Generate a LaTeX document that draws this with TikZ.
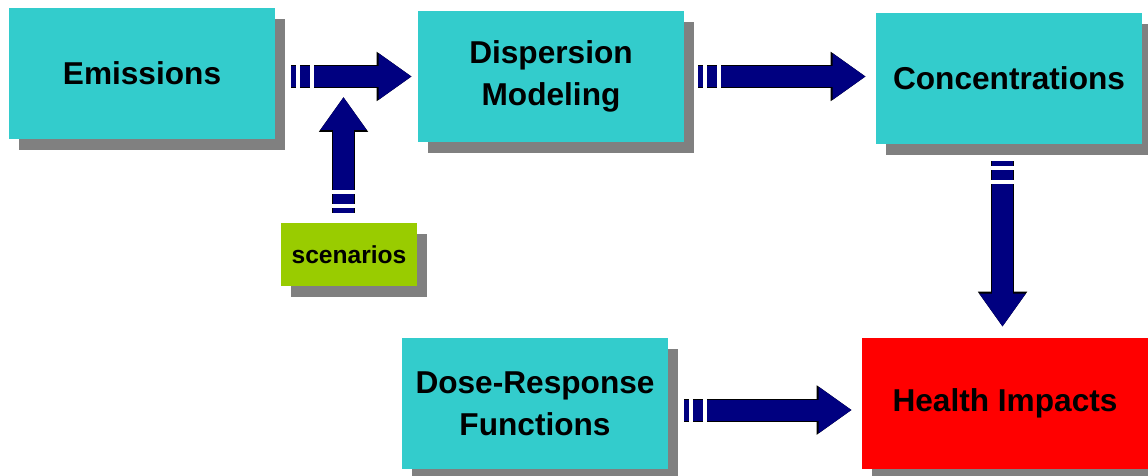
\documentclass[tikz,border=0pt]{standalone}
\usepackage{fontspec}
\setmainfont{Liberation Sans}
\usetikzlibrary{shadows,arrows.meta}
\definecolor{boxcyan}{RGB}{51,204,204}
\definecolor{boxgreen}{RGB}{153,204,0}
\definecolor{arrownavy}{RGB}{0,0,128}
\definecolor{shadowgray}{RGB}{128,128,128}
\tikzset{stage box/.style={rectangle, fill=boxcyan, minimum width=5.32cm, minimum height=2.62cm, inner sep=0pt, align=center, font=\fontsize{18}{24}\selectfont\bfseries, drop shadow={shadow xshift=0.2cm, shadow yshift=-0.22cm, fill=shadowgray, opacity=1}}}
\tikzset{stripes/.style={dash pattern=on 0.1cm off 0.08cm on 0.2cm off 0.08cm on 30cm}}
\tikzset{block arrow/.style={draw=arrownavy, line width=0.42cm, stripes, -{Triangle[width=0.88cm,length=0.66cm]}, preaction={draw=black, line width=0.46cm, stripes, -{Triangle[width=0.94cm,length=0.70cm]}}}}

\begin{document}
\begin{tikzpicture}[x=0.02cm, y=-0.02cm]
\useasboundingbox (0,0) rectangle (1148,476);
\node[stage box] (emis) at (142,73.5) {Emissions};
\node[stage box] (disp) at (551,76.5) {Dispersion\\Modeling};
\node[stage box] (conc) at (1009,78.5) {Concentrations};
\node[stage box, fill=boxgreen, minimum width=2.72cm, minimum height=1.26cm, font=\fontsize{14}{16}\selectfont\bfseries] (scen) at (349,254.5) {scenarios};
\node[stage box] (dose) at (535,403.5) {Dose-Response\\Functions};
\node[stage box, fill=red, minimum width=5.72cm] (health) at (1005,403.5) {Health Impacts};
\draw[block arrow, shorten <=0.32cm, shorten >=0.12cm] (emis.east |- disp.west) -- (disp.west);
\draw[block arrow, shorten <=0.28cm, shorten >=0.2cm] (disp.east) -- (disp.east -| conc.west);
\draw[block arrow, shorten <=0.2cm, shorten >=0.41cm] ([xshift=-0.11cm]scen.north) -- ([xshift=-0.11cm]scen.north |- disp.west);
\draw[block arrow, shorten <=0.34cm, shorten >=0.22cm] ([xshift=-0.13cm]conc.south) -- ([xshift=-0.13cm]conc.south |- health.north);
\draw[block arrow, shorten <=0.32cm, shorten >=0.2cm] ([yshift=-0.13cm]dose.east) -- ([yshift=-0.13cm]dose.east -| health.west);
\end{tikzpicture}
\end{document}
